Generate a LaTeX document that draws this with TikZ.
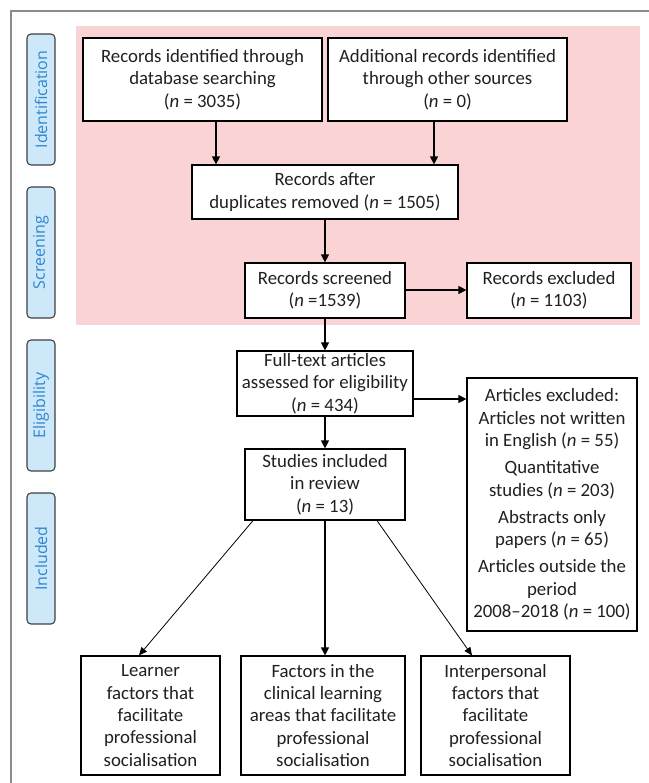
\documentclass[tikz,border=0pt]{standalone}
\usepackage{fontspec}
\setmainfont{Carlito}
\newfontfamily\labfont{Open Sans}
\usetikzlibrary{arrows.meta}
\definecolor{pinkbg}{HTML}{FAD4D5}
\definecolor{labfill}{HTML}{CDE8F8}
\definecolor{labtext}{HTML}{2F86CF}
\definecolor{txt}{HTML}{231F20}
\definecolor{framec}{HTML}{8C8C8C}
\tikzset{
 box/.style={draw=black, line width=1.2bp, fill=white, align=center, inner sep=0pt, text=txt, font=\fontsize{18.8bp}{22.3bp}\selectfont},
 lab/.style={draw=black!75, line width=1.1bp, fill=labfill, rounded corners=4bp, minimum width=131bp, minimum height=28bp, inner sep=0pt, text=labtext, font=\labfont\fontsize{16bp}{18bp}\selectfont, rotate=90},
 arr/.style={-{Triangle[length=8bp,width=8bp]}, line width=1.2bp},
 thinarr/.style={-{Triangle[length=8bp,width=7bp]}, line width=0.8bp},
}
\begin{document}
\begin{tikzpicture}[x=1bp,y=-1bp]
\useasboundingbox (0,0) rectangle (649,783);
\fill[white] (0,0) rectangle (649,783);
\draw[framec, line width=1.2bp] (11,783) -- (11,11) -- (649,11);
\fill[pinkbg] (76,26) rectangle (640,325);

\node[lab] (l1) at (41,99.5) {Identification};
\node[lab] (l2) at (41,252.5) {Screening};
\node[lab] (l3) at (41,405.5) {Eligibility};
\node[lab] (l4) at (41,558.5) {Included};

\node[box, minimum width=239bp, minimum height=83bp] (A) at (202.5,79.5) {Records identified through\\database searching\\(\textit{n} = 3035)};
\node[box, minimum width=239bp, minimum height=83bp] (B) at (447.5,79.5) {Additional records identified\\through other sources\\(\textit{n} = 0)};
\node[box, minimum width=266bp, minimum height=54bp] (C) at (325,192) {Records after\\duplicates removed (\textit{n} = 1505)};
\node[box, minimum width=160bp, minimum height=55bp] (D) at (325,290.5) {Records screened\\(\textit{n} =1539)};
\node[box, minimum width=164bp, minimum height=55bp] (E) at (549,290.5) {Records excluded\\(\textit{n} = 1103)};
\node[box, minimum width=176bp, minimum height=65bp] (F) at (325,383.5) {Full-text articles\\assessed for eligibility\\(\textit{n} = 434)};
\node[box, minimum width=170bp, minimum height=253bp] (G) at (552,504.5) {Articles excluded:\\Articles not written\\in English (\textit{n} = 55)\\[5bp]Quantitative\\studies (\textit{n} = 203)\\[5bp]Abstracts only\\papers (\textit{n} = 65)\\[5bp]Articles outside the\\period\\2008--2018 (\textit{n} = 100)};
\node[box, minimum width=160bp, minimum height=71bp] (H) at (325,484.5) {Studies included\\in review\\(\textit{n} = 13)};
\node[box, minimum width=139bp, minimum height=119bp] (I) at (150.5,715.5) {Learner\\factors that\\facilitate\\professional\\socialisation};
\node[box, minimum width=164bp, minimum height=119bp] (J) at (323,715.5) {Factors in the\\clinical learning\\areas that facilitate\\professional\\socialisation};
\node[box, minimum width=149bp, minimum height=119bp] (K) at (495.5,715.5) {Interpersonal\\factors that\\facilitate\\professional\\socialisation};

\draw[arr] (A.south -| 216,0) -- (C.north -| 216,0);
\draw[arr] (B.south -| 434,0) -- (C.north -| 434,0);
\draw[arr] (C.south -| 325,0) -- (D.north -| 325,0);
\draw[arr] (D.east |- 0,290) -- (E.west |- 0,290);
\draw[arr] (D.south -| 325,0) -- (F.north -| 325,0);
\draw[arr] (F.east |- 0,399) -- (G.west |- 0,399);
\draw[arr] (F.south -| 325,0) -- (H.north -| 325,0);
\draw[thinarr] (H.south -| 253,0) -- (I.north -| 139,0);
\draw[arr] (H.south -| 325,0) -- (J.north -| 325,0);
\draw[thinarr] (H.south -| 377,0) -- (K.north -| 472,0);
\end{tikzpicture}
\end{document}
